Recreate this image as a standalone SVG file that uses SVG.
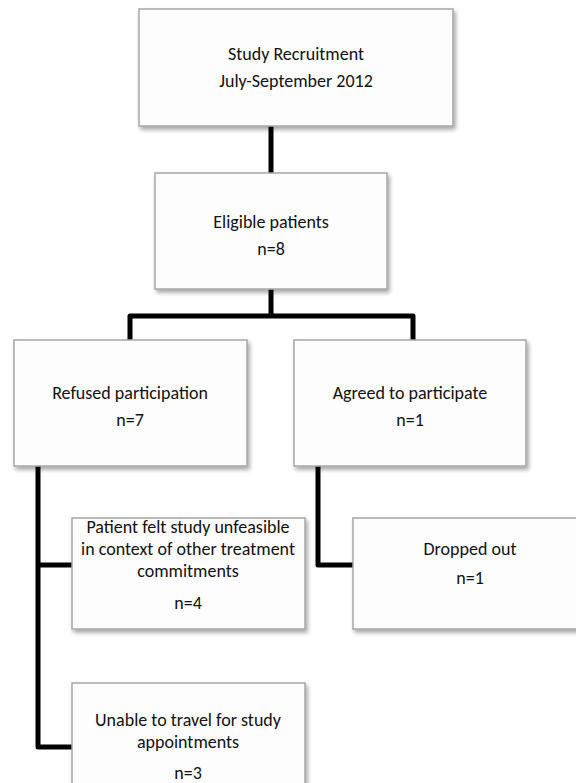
<svg xmlns="http://www.w3.org/2000/svg" width="576" height="783" viewBox="0 0 576 783">
  <defs>
    <filter id="shadow" x="-10%" y="-10%" width="130%" height="130%">
      <feDropShadow dx="2" dy="3" stdDeviation="2" flood-color="#000" flood-opacity="0.35"/>
    </filter>
  </defs>
  <style>
    .box { fill: #fdfdfd; stroke: #a6a6a6; stroke-width: 1.5; filter: url(#shadow); }
    .lbl { font-family: Carlito, Lato, "Liberation Sans", sans-serif; font-size: 18px; fill: #111; text-anchor: middle; }
    .wire { fill: none; stroke: #000; stroke-width: 5; stroke-linejoin: round; stroke-linecap: butt; }
  </style>

  <!-- connectors -->
  <g id="connectors">
    <path class="wire" d="M271 126 V173"/>
    <path class="wire" d="M271 289 V316"/>
    <path class="wire" d="M130 340 V316 H413 V340"/>
    <path class="wire" d="M38 466 V747 H72"/>
    <path class="wire" d="M38 565 H72"/>
    <path class="wire" d="M318 466 V565 H353"/>
  </g>

  <g id="recruitment">
    <rect class="box" x="139" y="9" width="314" height="117"/>
    <text class="lbl" x="296" y="60">Study Recruitment</text>
    <text class="lbl" x="296" y="87">July-September 2012</text>
  </g>

  <g id="eligible">
    <rect class="box" x="155" y="173" width="232" height="116"/>
    <text class="lbl" x="271" y="228">Eligible patients</text>
    <text class="lbl" x="271" y="255">n=8</text>
  </g>

  <g id="refused">
    <rect class="box" x="14" y="340" width="233" height="126"/>
    <text class="lbl" x="130" y="399">Refused participation</text>
    <text class="lbl" x="130" y="426">n=7</text>
  </g>

  <g id="agreed">
    <rect class="box" x="294" y="340" width="232" height="126"/>
    <text class="lbl" x="410" y="399">Agreed to participate</text>
    <text class="lbl" x="410" y="426">n=1</text>
  </g>

  <g id="unfeasible">
    <rect class="box" x="72" y="518" width="233" height="111"/>
    <text class="lbl" x="188" y="533">Patient felt study unfeasible</text>
    <text class="lbl" x="188" y="555">in context of other treatment</text>
    <text class="lbl" x="188" y="577">commitments</text>
    <text class="lbl" x="188" y="609">n=4</text>
  </g>

  <g id="dropped">
    <rect class="box" x="353" y="518" width="233" height="111"/>
    <text class="lbl" x="470" y="555">Dropped out</text>
    <text class="lbl" x="470" y="584">n=1</text>
  </g>

  <g id="travel">
    <rect class="box" x="72" y="683" width="233" height="110"/>
    <text class="lbl" x="188" y="726">Unable to travel for study</text>
    <text class="lbl" x="188" y="748">appointments</text>
    <text class="lbl" x="188" y="779">n=3</text>
  </g>
</svg>
